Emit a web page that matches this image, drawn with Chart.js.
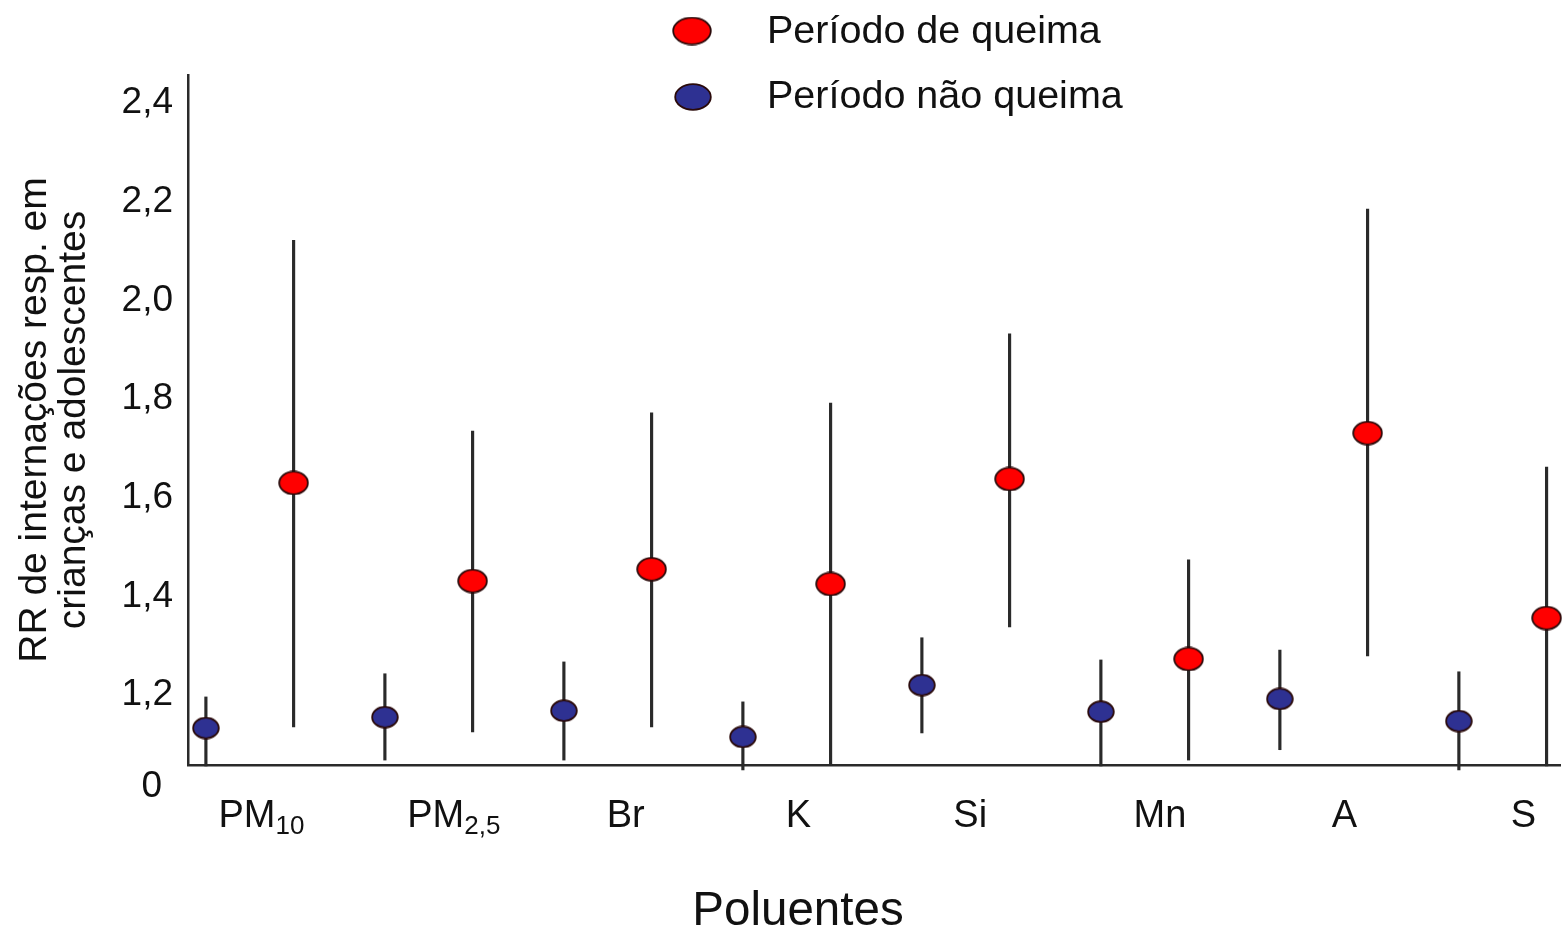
<!DOCTYPE html>
<html lang="pt">
<head>
<meta charset="utf-8">
<title>RR de internações respiratórias</title>
<script src="https://cdn.jsdelivr.net/npm/chart.js@4/dist/chart.umd.min.js"></script>
<style>
    html, body { margin: 0; padding: 0; background: #fff; overflow: hidden; }
    #wrap { width: 1565px; height: 931px; position: relative; }
</style>
</head>
<body>
<div id="wrap"><canvas id="rrChart"></canvas></div>
<script>
// Data
const labelMain = ["PM", "PM", "Br", "K", "Si", "Mn", "A", "S"];
const labelSub = ["10", "2,5", "", "", "", "", "", ""];

const burnValues = [1.630, 1.431, 1.455, 1.425, 1.638, 1.273, 1.731, 1.356];
const burnLow = [1.135, 1.125, 1.135, 1.058, 1.338, 1.068, 1.279, 1.056];
const burnHigh = [2.122, 1.735, 1.772, 1.792, 1.932, 1.474, 2.185, 1.662];

const nonBurnValues = [1.133, 1.155, 1.168, 1.115, 1.220, 1.166, 1.192, 1.147];
const nonBurnLow = [1.056, 1.068, 1.068, 1.048, 1.123, 1.056, 1.089, 1.048];
const nonBurnHigh = [1.196, 1.243, 1.267, 1.186, 1.316, 1.271, 1.291, 1.247];

const yTicks = [1.2, 1.4, 1.6, 1.8, 2.0, 2.2, 2.4];
const legendNames = ["Período de queima", "Período não queima"];
const xTitle = "Poluentes";

// layout: where each category label sits, in category units from the blue mark
const labelShift = [0.31, 0.385, 0.345, 0.31, 0.27, 0.33, 0.36, 0.36];

const FONT = "'Liberation Sans', Arial, sans-serif";
const TEXT = "#111";
const RED = "#ff0000";
const BLUE = "#2e3192";
const WHISKER = "#2a2a2a";
const BURN_SHIFT = 0.49;

// ellipse markers
const makeEllipse = (w, h, fill) => {
    const c = document.createElement("canvas");
    c.width = w;
    c.height = h;
    const g = c.getContext("2d");
    g.beginPath();
    g.ellipse(w / 2, h / 2, w / 2 - 1.2, h / 2 - 1.2, 0, 0, Math.PI * 2);
    g.fillStyle = fill;
    g.fill();
    g.lineWidth = 1.8;
    g.strokeStyle = "#2a0a0a";
    g.stroke();
    return c;
};
const redDot = makeEllipse(31, 25, RED);
const blueDot = makeEllipse(28, 23, BLUE);
const redKey = makeEllipse(40, 29, RED);
const blueKey = makeEllipse(38, 28, BLUE);

const burnX = (i) => i + BURN_SHIFT;

// extra texts: legend, category labels with subscripts, "0" tick, x title
const extras = {
    id: "extras",
    afterDraw(chart) {
        const { ctx, scales } = chart;
        const x = scales.x, y = scales.y;
        ctx.save();
        ctx.fillStyle = TEXT;
        ctx.textBaseline = "middle";

        // legend
        ctx.drawImage(redKey, 692 - redKey.width / 2, 31 - redKey.height / 2);
        ctx.drawImage(blueKey, 693 - blueKey.width / 2, 97 - blueKey.height / 2);
        ctx.font = `39.5px ${FONT}`;
        ctx.textAlign = "left";
        ctx.fillText(legendNames[0], 767, 32);
        ctx.fillText(legendNames[1], 767, 97);

        // the broken-axis "0"
        ctx.font = `37px ${FONT}`;
        ctx.textAlign = "right";
        ctx.fillText("0", y.right - 26, y.bottom + 22);

        // categories
        const cy = y.bottom + 52;
        labelMain.forEach((m, i) => {
            const cx = x.getPixelForValue(i + labelShift[i]);
            ctx.font = `38px ${FONT}`;
            const w1 = ctx.measureText(m).width;
            ctx.font = `26px ${FONT}`;
            const w2 = labelSub[i] ? ctx.measureText(labelSub[i]).width : 0;
            const x0 = cx - (w1 + w2) / 2;
            ctx.textAlign = "left";
            ctx.font = `38px ${FONT}`;
            ctx.fillText(m, x0, cy);
            if (labelSub[i]) {
                ctx.font = `26px ${FONT}`;
                ctx.fillText(labelSub[i], x0 + w1, cy + 10);
            }
        });

        // x axis title
        ctx.font = `47.5px ${FONT}`;
        ctx.textAlign = "center";
        ctx.fillText(xTitle, 798, 912);
        ctx.restore();
    },
};

new Chart(document.getElementById("rrChart"), {
    type: "scatter",
    data: {
        datasets: [
            {
                label: legendNames[0],
                data: burnValues.map((v, i) => ({ x: burnX(i), y: v })),
                pointStyle: redDot,
                order: 0,
                clip: false,
            },
            {
                label: legendNames[1],
                data: nonBurnValues.map((v, i) => ({ x: i, y: v })),
                pointStyle: blueDot,
                order: 0,
                clip: false,
            },
            {
                type: "bar",
                label: "IC queima",
                data: burnLow.map((lo, i) => ({ x: burnX(i), y: [lo, burnHigh[i]] })),
                backgroundColor: WHISKER,
                barThickness: 2.5,
                grouped: false,
                order: 1,
                clip: false,
            },
            {
                type: "bar",
                label: "IC não queima",
                data: nonBurnLow.map((lo, i) => ({ x: i, y: [lo, nonBurnHigh[i]] })),
                backgroundColor: WHISKER,
                barThickness: 2.5,
                grouped: false,
                order: 1,
                clip: false,
            },
        ],
    },
    options: {
        responsive: true,
        maintainAspectRatio: false,
        animation: false,
        layout: { padding: { left: 0, right: 0, top: 75, bottom: 0 } },
        plugins: {
            legend: { display: false },
            tooltip: { enabled: false },
        },
        scales: {
            x: {
                type: "linear",
                min: -0.1,
                max: 7.565,
                offset: false,
                grid: { display: false, offset: false },
                border: { display: true, color: WHISKER, width: 2.5 },
                ticks: { display: false },
                afterFit: (scale) => { scale.height = 166; },
            },
            y: {
                type: "linear",
                min: 1.058,
                max: 2.457,
                beginAtZero: false,
                grid: { display: false },
                border: { display: true, color: WHISKER, width: 2.5 },
                afterBuildTicks: (scale) => {
                    scale.ticks = yTicks.map((v) => ({ value: v }));
                },
                ticks: {
                    color: TEXT,
                    padding: 7,
                    font: { family: FONT, size: 37 },
                    callback: (v) => v.toFixed(1).replace(".", ","),
                },
                title: {
                    display: true,
                    text: ["RR de internações resp. em", "crianças e adolescentes"],
                    color: TEXT,
                    font: { family: FONT, size: 39, lineHeight: 1.02 },
                    padding: { top: 15, bottom: 0 },
                },
                afterFit: (scale) => { scale.width = 188; },
            },
        },
    },
    plugins: [extras],
});
</script>
</body>
</html>
